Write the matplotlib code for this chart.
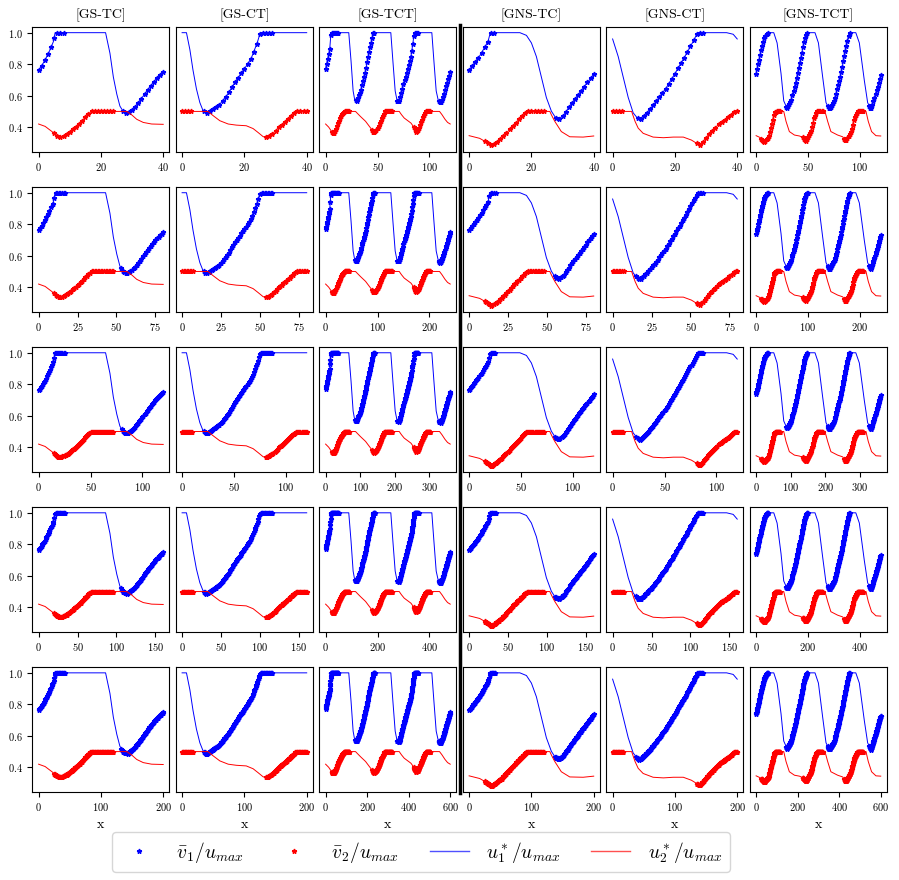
import matplotlib
matplotlib.use("Agg")
import matplotlib.pyplot as plt
import numpy as np
from matplotlib.lines import Line2D

plt.rcParams['font.family'] = 'serif'
plt.rcParams['font.serif'] = ['cmr10', 'DejaVu Serif']
plt.rcParams['mathtext.fontset'] = 'cm'
plt.rcParams['axes.formatter.use_mathtext'] = True
plt.rcParams['axes.unicode_minus'] = False

titles = ['[GS-TC]', '[GS-CT]', '[GS-TCT]', '[GNS-TC]', '[GNS-CT]', '[GNS-TCT]']
base_len = [40, 40, 120, 40, 40, 120]   # domain length in first row
row_scale = [1, 2, 3, 4, 5]

# curves read in first-row units (x), values are u*/u_max
gs_tc_x1 = [0, 1.1, 2.1, 3.7, 4.8, 5.3, 21.5, 22.9, 24.0, 25.1, 26.1, 27.2, 27.9, 28.6, 30.9, 33.1, 35.2, 37.3, 40]
gs_tc_u1 = [0.762, 0.794, 0.827, 0.892, 0.946, 1.0, 1.0, 0.87, 0.718, 0.61, 0.534, 0.498, 0.49, 0.487, 0.528, 0.584, 0.643, 0.697, 0.751]
gs_tc_x2 = [0, 2.1, 4.3, 5.9, 6.9, 9.1, 11.2, 13.3, 16.0, 16.9, 28.3, 29.9, 31.5, 33.6, 36.3, 40]
gs_tc_u2 = [0.42, 0.405, 0.372, 0.346, 0.335, 0.355, 0.389, 0.426, 0.484, 0.5, 0.5, 0.478, 0.45, 0.43, 0.42, 0.418]

gs_ct_x1 = [0, 1.4, 2.5, 3.5, 4.6, 5.7, 6.7, 7.8, 9.9, 12.1, 14.8, 17.4, 20.1, 22.2, 24.1, 25.1, 40]
gs_ct_u1 = [1.0, 1.0, 0.892, 0.762, 0.643, 0.556, 0.506, 0.485, 0.513, 0.545, 0.614, 0.697, 0.773, 0.838, 0.935, 1.0, 1.0]
gs_ct_x2 = [0, 8.3, 9.9, 12.1, 14.8, 17.4, 20.6, 22.8, 24.4, 26.0, 27.1, 29.2, 31.3, 33.5, 35.6, 36.7, 40]
gs_ct_u2 = [0.5, 0.5, 0.474, 0.441, 0.42, 0.413, 0.409, 0.391, 0.366, 0.34, 0.335, 0.361, 0.405, 0.441, 0.48, 0.5, 0.5]

gs_tct_x1 = [0, 3.9, 5.2, 22.3, 24.5, 26.5, 28, 29.8, 33.7, 38.5, 41.7, 44.5, 46, 62.8, 64.8, 67, 68.8, 70.9,
             75.7, 79, 82.2, 84, 85.4, 102.3, 104.3, 106.5, 108.5, 110.7, 113, 116, 120]
gs_tct_u1 = [0.77, 0.89, 1.0, 1.0, 0.82, 0.63, 0.575, 0.565, 0.63, 0.76, 0.868, 0.95, 1.0, 1.0, 0.82, 0.63, 0.57, 0.562,
             0.69, 0.77, 0.85, 0.93, 1.0, 1.0, 0.82, 0.63, 0.57, 0.555, 0.59, 0.66, 0.75]
gs_tct_x2 = [0, 3, 6, 7.8, 10, 12.6, 15.9, 18.1, 28.8, 31, 33.7, 38.5, 43.4, 46.6, 49, 51.5, 54, 57, 70.9, 73, 75.7,
             82.2, 85, 87, 89, 92, 94.5, 96.8, 109.7, 112, 115, 117.5, 120]
gs_tct_u2 = [0.42, 0.4, 0.37, 0.361, 0.39, 0.437, 0.48, 0.5, 0.5, 0.485, 0.467, 0.437, 0.394, 0.366, 0.38, 0.415, 0.46,
             0.5, 0.5, 0.48, 0.458, 0.426, 0.4, 0.372, 0.38, 0.43, 0.47, 0.5, 0.5, 0.48, 0.45, 0.43, 0.42]

gns_tc_x1 = [0, 3.4, 5, 6.1, 6.8, 16.3, 18.4, 20, 21.6, 23.2, 24.8, 26.4, 27.6, 28.9, 30.5, 32.3, 36, 40]
gns_tc_u1 = [0.762, 0.853, 0.907, 0.946, 1.0, 1.0, 0.983, 0.935, 0.848, 0.718, 0.588, 0.502, 0.465, 0.452, 0.48, 0.534, 0.632, 0.736]
gns_tc_x2 = [0, 3.4, 5.5, 7.2, 10.4, 15.2, 18.6, 25.9, 26.5, 27.5, 29.6, 32.3, 36.6, 40]
gns_tc_u2 = [0.346, 0.329, 0.305, 0.281, 0.329, 0.433, 0.5, 0.5, 0.475, 0.437, 0.372, 0.339, 0.337, 0.344]

gns_ct_x1 = [0, 1.8, 3.4, 5, 6.6, 7.9, 8.6, 9.8, 12, 14.6, 17.3, 20, 23.2, 25.3, 27.3, 36.6, 38.7, 40]
gns_ct_u1 = [0.96, 0.848, 0.718, 0.589, 0.491, 0.459, 0.448, 0.469, 0.513, 0.578, 0.653, 0.74, 0.848, 0.924, 1.0, 1.0, 0.99, 0.96]
gns_ct_x2 = [0, 6.1, 7.2, 8.2, 9.8, 13, 16.3, 19.5, 22.7, 25.3, 28, 31.2, 34.4, 37.1, 39.3, 40]
gns_ct_u2 = [0.5, 0.5, 0.437, 0.394, 0.361, 0.337, 0.333, 0.337, 0.337, 0.318, 0.285, 0.361, 0.426, 0.463, 0.5, 0.5]

gns_tct_x1 = [0, 2.2, 5.4, 8, 10.6, 17, 20.2, 24, 26.6, 29.8, 33.7, 38.5, 43.3, 46.5, 49, 56.7, 60, 64.1, 67.3, 70.5,
              75.3, 81.7, 86.5, 89.7, 96, 99.4, 104.2, 107.4, 110.6, 115, 120]
gns_tct_u1 = [0.74, 0.805, 0.903, 0.968, 1.0, 1.0, 0.935, 0.74, 0.567, 0.519, 0.567, 0.697, 0.848, 0.957, 1.0, 1.0, 0.935,
              0.718, 0.556, 0.513, 0.567, 0.74, 0.903, 1.0, 1.0, 0.935, 0.697, 0.556, 0.513, 0.61, 0.729]
gns_tct_x2 = [0, 4.2, 8, 11.9, 13.8, 17.6, 19.2, 26.6, 28.8, 32, 36.9, 41.7, 45, 48.1, 52.9, 56.1, 58.7, 66.3, 68.9, 72,
              78.5, 83.3, 86.5, 91.3, 94.6, 97.8, 105.8, 108, 111.2, 115.4, 120]
gns_tct_u2 = [0.346, 0.333, 0.307, 0.339, 0.389, 0.491, 0.5, 0.5, 0.437, 0.372, 0.35, 0.344, 0.335, 0.311, 0.372, 0.459,
              0.5, 0.5, 0.437, 0.372, 0.35, 0.339, 0.311, 0.372, 0.459, 0.5, 0.5, 0.437, 0.372, 0.346, 0.344]

# stretches (first-row units) where the v-bar markers sit on the curves
gs_tc_m1 = [(0, 8.5), (26.5, 40)]
gs_tc_m2 = [(5, 24)]
gs_ct_m1 = [(7, 29)]
gs_ct_m2 = [(0, 3.5), (27, 40)]
gs_tct_m1 = [(0, 12.5), (28.5, 47.5), (69, 89.5), (109, 120)]
gs_tct_m2 = [(6, 23), (45, 64), (85, 101)]
gns_tc_m1 = [(0, 8.5), (27.5, 40)]
gns_tc_m2 = [(5, 24)]
gns_ct_m1 = [(7.5, 29)]
gns_ct_m2 = [(0, 3.5), (27, 40)]
gns_tct_m1 = [(0, 11.5), (29, 49.5), (69, 90), (109, 120)]
gns_tct_m2 = [(5, 23), (45, 64), (85, 103)]

curves = [
    (gs_tc_x1, gs_tc_u1, gs_tc_x2, gs_tc_u2, gs_tc_m1, gs_tc_m2),
    (gs_ct_x1, gs_ct_u1, gs_ct_x2, gs_ct_u2, gs_ct_m1, gs_ct_m2),
    (gs_tct_x1, gs_tct_u1, gs_tct_x2, gs_tct_u2, gs_tct_m1, gs_tct_m2),
    (gns_tc_x1, gns_tc_u1, gns_tc_x2, gns_tc_u2, gns_tc_m1, gns_tc_m2),
    (gns_ct_x1, gns_ct_u1, gns_ct_x2, gns_ct_u2, gns_ct_m1, gns_ct_m2),
    (gns_tct_x1, gns_tct_u1, gns_tct_x2, gns_tct_u2, gns_tct_m1, gns_tct_m2),
]


def marker_pts(xs, ys, spans, s):
    # one v-bar sample per cell on the scaled grid, lying on the curve
    pts = []
    for a, b in spans:
        pts.extend(k for k in range(int(np.ceil(a * s)), int(np.floor(b * s)) + 1))
    pts = np.array(pts, dtype=float)
    return pts, np.interp(pts / s, xs, ys)


fig, axes = plt.subplots(5, 6, figsize=(8.99, 8.8), dpi=100, sharey=True)
fig.subplots_adjust(left=0.036, right=0.9866, top=0.9693, bottom=0.1003, wspace=0.047, hspace=0.285)

for r, s in enumerate(row_scale):
    for c in range(6):
        ax = axes[r, c]
        x1, u1, x2, u2, m1, m2 = curves[c]
        px1, py1 = marker_pts(x1, u1, m1, s)
        px2, py2 = marker_pts(x2, u2, m2, s)
        ax.plot(px1, py1, '*', color='b', ms=3.5)
        ax.plot(px2, py2, '*', color='r', ms=3.5)
        ax.plot(np.array(x1) * s, u1, '-', color='b', lw=0.7)
        ax.plot(np.array(x2) * s, u2, '-', color='r', lw=0.7)
        ax.tick_params(labelsize=7.5)
        if c > 0:
            ax.tick_params(left=False, labelleft=False)
        if r == 0:
            ax.set_title(titles[c], fontsize=10)
        if r == 4:
            ax.set_xlabel('x', fontsize=10)

axes[0, 0].set_yticks([0.4, 0.6, 0.8, 1.0])

fig.add_artist(Line2D([460 / 899, 460 / 899], [1 - 25 / 880, 1 - 793 / 880],
                      transform=fig.transFigure, color='k', lw=2.5))

handles = [
    Line2D([], [], ls='none', marker='*', color='b', ms=3.5),
    Line2D([], [], ls='none', marker='*', color='r', ms=3.5),
    Line2D([], [], color='#5050ff', lw=1.0),
    Line2D([], [], color='#ff5050', lw=1.0),
]
labels = [r'$\bar{v}_1/u_{max}$', r'$\bar{v}_2/u_{max}$', r'$u^*_1/u_{max}$', r'$u^*_2/u_{max}$']
fig.legend(handles, labels, loc='center', bbox_to_anchor=(421 / 899, 1 - 852 / 880), ncol=4,
           fontsize=14, columnspacing=1.6, handlelength=2.0, handletextpad=0.9)

fig.savefig('out.png', dpi=100)
